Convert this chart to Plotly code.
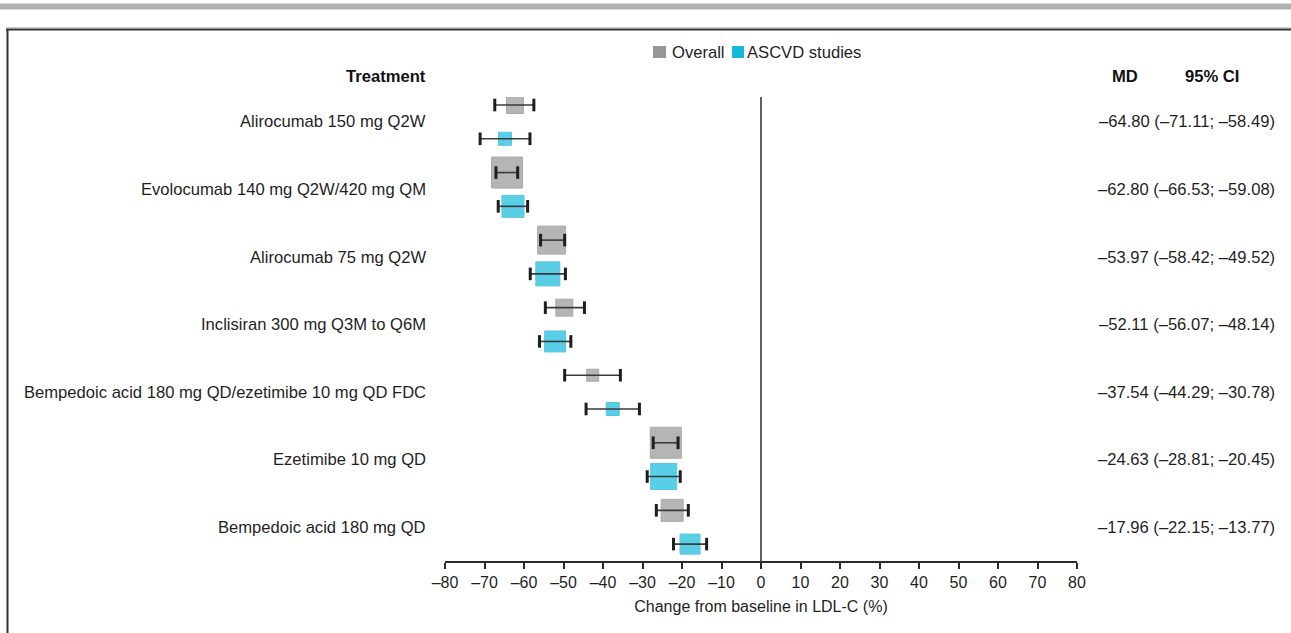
import plotly.graph_objects as go

# Treatments, top to bottom
treatments = [
    "Alirocumab 150 mg Q2W",
    "Evolocumab 140 mg Q2W/420 mg QM",
    "Alirocumab 75 mg Q2W",
    "Inclisiran 300 mg Q3M to Q6M",
    "Bempedoic acid 180 mg QD/ezetimibe 10 mg QD FDC",
    "Ezetimibe 10 mg QD",
    "Bempedoic acid 180 mg QD",
]

# Overall network estimates (mean difference, lower, upper)
overall_md = [-62.3, -64.3, -53.0, -49.8, -42.6, -24.1, -22.5]
overall_lo = [-67.4, -67.1, -55.8, -54.6, -49.7, -27.3, -26.5]
overall_hi = [-57.5, -61.6, -49.7, -44.7, -35.6, -21.0, -18.4]
overall_size = [17, 31, 28, 17, 12, 31, 22]

# ASCVD studies estimates (reported in the right-hand column)
ascvd_md = [-64.80, -62.80, -53.97, -52.11, -37.54, -24.63, -17.96]
ascvd_lo = [-71.11, -66.53, -58.42, -56.07, -44.29, -28.81, -22.15]
ascvd_hi = [-58.49, -59.08, -49.52, -48.14, -30.78, -20.45, -13.77]
ascvd_size = [13, 22, 24, 21, 13, 26, 20]

x_ticks = list(range(-80, 81, 10))

W, H = 1291, 633
FONT = "Liberation Sans, Arial, sans-serif"
FS = 16.6
GREY = "#969696"
BLUE = "#14bade"
DARK = "#2b2b2b"
TEXT = "#1f1f1f"

n = len(treatments)
y_overall = [2 * i for i in range(n)]
y_ascvd = [2 * i + 1 for i in range(n)]
y_label = [2 * i + 0.5 for i in range(n)]


def px_x(p):
    return p / W


def px_y(p):
    return 1 - p / H


def dash(v):
    return f"{v:.2f}".replace("-", "\u2013")


fig = go.Figure()


def add_series(md, lo, hi, size, ys, color, edge, name):
    fig.add_trace(go.Scatter(
        x=md, y=ys, mode="markers", name=name, showlegend=False,
        marker=dict(symbol="square", size=size, color=color,
                    line=dict(color=edge, width=1)),
        hoverinfo="skip",
    ))
    # confidence interval lines
    cx, cy = [], []
    for a, b, yy in zip(lo, hi, ys):
        cx += [a, b, None]
        cy += [yy, yy, None]
    fig.add_trace(go.Scatter(
        x=cx, y=cy, mode="lines", showlegend=False,
        line=dict(color="#3a3a3a", width=1.6), hoverinfo="skip",
    ))
    # whisker caps
    fig.add_trace(go.Scatter(
        x=lo + hi, y=ys + ys, mode="markers", showlegend=False,
        marker=dict(symbol="line-ns", size=9,
                    line=dict(color="#1e1e1e", width=3)),
        hoverinfo="skip",
    ))


add_series(overall_md, overall_lo, overall_hi, overall_size, y_overall,
           GREY, "#868686", "Overall")
add_series(ascvd_md, ascvd_lo, ascvd_hi, ascvd_size, y_ascvd,
           BLUE, "#10aed0", "ASCVD studies")

annotations = []
# treatment names
for name, yy in zip(treatments, y_label):
    annotations.append(dict(
        x=px_x(427.5), xref="paper", y=yy, yref="y", text=name,
        showarrow=False, xanchor="right", yanchor="middle",
        font=dict(family=FONT, size=FS, color=TEXT),
    ))
# MD (95% CI) column
for m, a, b, yy in zip(ascvd_md, ascvd_lo, ascvd_hi, y_label):
    annotations.append(dict(
        x=px_x(1276.5), xref="paper", y=yy, yref="y",
        text=f"{dash(m)} ({dash(a)}; {dash(b)})",
        showarrow=False, xanchor="right", yanchor="middle",
        font=dict(family=FONT, size=FS, color=TEXT),
    ))
# column headers
for txt, xp, anchor in [("Treatment", 427.5, "right"), ("MD", 1125, "center"),
                        ("95% CI", 1212, "center")]:
    annotations.append(dict(
        x=px_x(xp), xref="paper", y=px_y(76), yref="paper",
        text=f"<b>{txt}</b>", showarrow=False, xanchor=anchor,
        yanchor="middle", font=dict(family=FONT, size=FS, color="#111111"),
    ))
# legend texts
for txt, xp in [("Overall", 670), ("ASCVD studies", 745)]:
    annotations.append(dict(
        x=px_x(xp), xref="paper", y=px_y(52), yref="paper", text=txt,
        showarrow=False, xanchor="left", yanchor="middle",
        font=dict(family=FONT, size=FS, color=TEXT),
    ))

shapes = [
    # page band and frame
    dict(type="rect", xref="paper", yref="paper", x0=0, x1=1,
         y0=px_y(9.5), y1=px_y(3.5), fillcolor="#b1b1b3", line_width=0,
         layer="below"),
    dict(type="line", xref="paper", yref="paper", x0=px_x(6), x1=1,
         y0=px_y(27.5), y1=px_y(27.5), line=dict(color="#c8c8c8", width=1)),
    dict(type="line", xref="paper", yref="paper", x0=px_x(6), x1=1,
         y0=px_y(29.5), y1=px_y(29.5), line=dict(color="#333333", width=2)),
    dict(type="line", xref="paper", yref="paper", x0=px_x(7.5), x1=px_x(7.5),
         y0=px_y(29), y1=0, line=dict(color="#333333", width=2)),
    # legend swatches
    dict(type="rect", xref="paper", yref="paper", x0=px_x(653), x1=px_x(666),
         y0=px_y(58), y1=px_y(46), fillcolor=GREY, line_width=0),
    dict(type="rect", xref="paper", yref="paper", x0=px_x(732), x1=px_x(744),
         y0=px_y(58), y1=px_y(46), fillcolor=BLUE, line_width=0),
    # line of no effect
    dict(type="line", xref="x", yref="y domain", x0=0, x1=0, y0=0, y1=1,
         line=dict(color=DARK, width=1.5), layer="below"),
]

fig.update_layout(
    width=W, height=H,
    margin=dict(l=0, r=0, t=0, b=0, pad=0, autoexpand=False),
    paper_bgcolor="white", plot_bgcolor="white",
    showlegend=False,
    font=dict(family=FONT, size=FS, color=TEXT),
    xaxis=dict(
        domain=[px_x(445), px_x(1077)], range=[-80, 80], automargin=False,
        tickmode="array", tickvals=x_ticks,
        ticktext=[str(t).replace("-", "\u2013") for t in x_ticks],
        ticks="outside", ticklen=6, tickwidth=1.5, tickcolor=DARK,
        showline=True, linecolor=DARK, linewidth=1.5,
        showgrid=False, zeroline=False,
        tickfont=dict(family=FONT, size=16, color=TEXT),
        title=dict(text="Change from baseline in LDL-C (%)", standoff=11,
                   font=dict(family=FONT, size=16, color=TEXT)),
    ),
    yaxis=dict(
        domain=[px_y(561), px_y(97)], range=[13.5, -0.237], automargin=False,
        showticklabels=False, showgrid=False, zeroline=False,
        showline=False, ticks="",
    ),
    annotations=annotations,
    shapes=shapes,
)

fig.write_html("out.html")
